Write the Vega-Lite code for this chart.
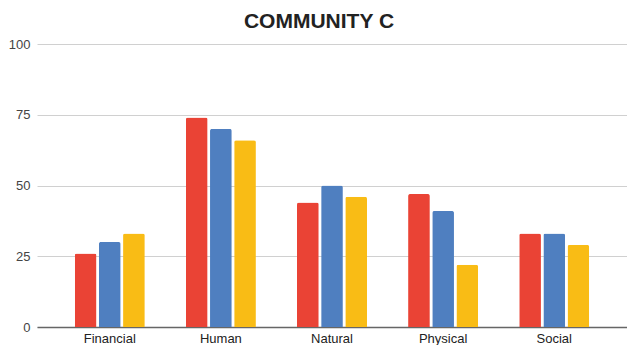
{
  "$schema": "https://vega.github.io/schema/vega-lite/v6.json",
  "autosize": {"type": "none"},
  "width": 590,
  "height": 283,
  "padding": {"left": 37, "top": 44, "right": 0, "bottom": 18},
  "background": "#ffffff",
  "title": {
    "text": "COMMUNITY C",
    "font": "Liberation Sans, Arial, sans-serif",
    "fontSize": 21,
    "fontWeight": "bold",
    "color": "#222222",
    "anchor": "middle",
    "dx": -13,
    "offset": 6
  },
  "data": {
    "values": [
      {"category": "Financial", "series": "Series 1", "value": 26},
      {"category": "Financial", "series": "Series 2", "value": 30},
      {"category": "Financial", "series": "Series 3", "value": 33},
      {"category": "Human", "series": "Series 1", "value": 74},
      {"category": "Human", "series": "Series 2", "value": 70},
      {"category": "Human", "series": "Series 3", "value": 66},
      {"category": "Natural", "series": "Series 1", "value": 44},
      {"category": "Natural", "series": "Series 2", "value": 50},
      {"category": "Natural", "series": "Series 3", "value": 46},
      {"category": "Physical", "series": "Series 1", "value": 47},
      {"category": "Physical", "series": "Series 2", "value": 41},
      {"category": "Physical", "series": "Series 3", "value": 22},
      {"category": "Social", "series": "Series 1", "value": 33},
      {"category": "Social", "series": "Series 2", "value": 33},
      {"category": "Social", "series": "Series 3", "value": 29}
    ]
  },
  "mark": {"type": "bar", "cornerRadiusTopLeft": 2, "cornerRadiusTopRight": 2},
  "encoding": {
    "x": {
      "field": "category",
      "type": "nominal",
      "sort": null,
      "scale": {"paddingInner": 0.37, "paddingOuter": 0.34},
      "axis": {
        "title": null,
        "labelAngle": 0,
        "labelFont": "Liberation Sans, Arial, sans-serif",
        "labelFontSize": 13,
        "labelColor": "#222222",
        "labelPadding": 5,
        "ticks": false,
        "domainColor": "#666666",
        "domainWidth": 1.5,
        "grid": false
      }
    },
    "xOffset": {
      "field": "series",
      "type": "nominal",
      "scale": {"paddingInner": 0.1}
    },
    "y": {
      "field": "value",
      "type": "quantitative",
      "scale": {"domain": [0, 100], "nice": false},
      "axis": {
        "title": null,
        "values": [0, 25, 50, 75, 100],
        "labelFont": "Liberation Sans, Arial, sans-serif",
        "labelFontSize": 13,
        "labelColor": "#444444",
        "labelPadding": 7,
        "ticks": false,
        "domain": false,
        "gridColor": "#d0d0d0",
        "gridWidth": 1
      }
    },
    "color": {
      "field": "series",
      "type": "nominal",
      "scale": {"range": ["#ea4335", "#4f7fc0", "#f9bc15"]},
      "legend": null
    }
  },
  "config": {"view": {"stroke": null}}
}
